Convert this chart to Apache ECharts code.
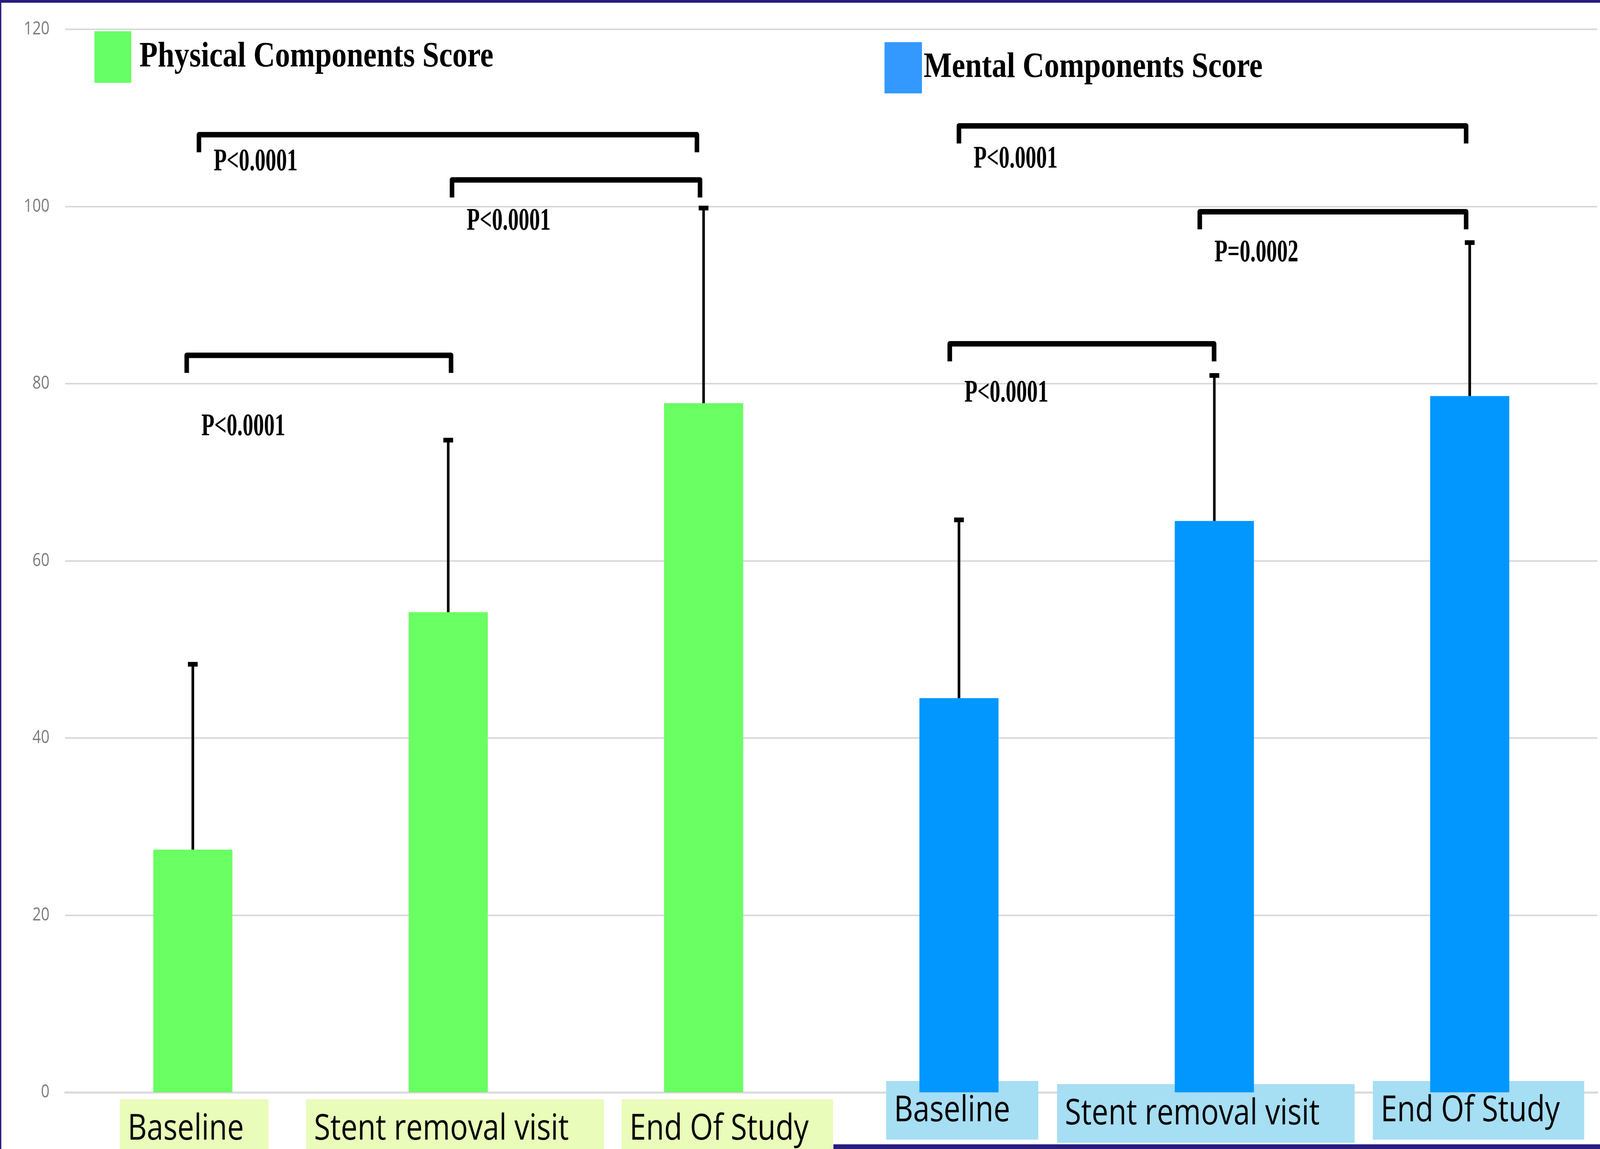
<!DOCTYPE html>
<html>
<head>
<meta charset="utf-8">
<script src="https://cdn.jsdelivr.net/npm/echarts@6/dist/echarts.min.js"></script>
<style>
html,body{margin:0;padding:0;background:#fff;overflow:hidden;width:100%;height:100%;}
#c{width:4913px;height:2941px;position:absolute;left:0;top:0;transform-origin:0 0;}
</style>
</head>
<body>
<div id="c"></div>
<script>
// ---- data ----
const timepoints = ['Baseline', 'Stent removal visit', 'End Of Study'];
const groupNames = ['Physical Components Score', 'Mental Components Score'];
const physicalMean = [27.4, 54.2, 77.8];
const physicalUpper = [48.5, 73.8, 100.0];
const mentalMean = [44.5, 64.5, 78.6];
const mentalUpper = [64.8, 81.1, 96.1];
const yMin = 0, yMax = 120, yStep = 20;
// brackets: ends as positions along the category axis (0..5), level and label level in score units
const bracketEnds = [[0.024, 1.974], [1.015, 1.986], [-0.024, 1.011], [3.0, 4.986], [3.943, 4.986], [2.964, 3.999]];
const bracketLevels = [108.1, 103.0, 83.2, 109.1, 99.4, 84.5];
const pLabels = ['P<0.0001', 'P<0.0001', 'P<0.0001', 'P<0.0001', 'P=0.0002', 'P<0.0001'];
const pLabelLevels = [105.0, 98.3, 75.1, 105.3, 94.7, 78.9];

// ---- fit the 4913 x 2941 drawing into whatever viewport we get ----
const el = document.getElementById('c');
const vw = document.documentElement.clientWidth || window.innerWidth || 4913;
const vh = document.documentElement.clientHeight || window.innerHeight || 2941;
el.style.transform = 'scale(' + (vw / 4913) + ',' + (vh / 2941) + ')';

// ---- build ----
const axisLabelTexts = timepoints.concat(timepoints);
const axisKeys = axisLabelTexts.map((_, i) => 'c' + i);
const physicalBars = physicalMean.concat(['-', '-', '-']);
const mentalBars = ['-', '-', '-'].concat(mentalMean);
const errData = physicalMean.map((m, i) => [i, m, physicalUpper[i]])
  .concat(mentalMean.map((m, i) => [i + 3, m, mentalUpper[i]]));
const bracketData = bracketEnds.map((e, i) => [Math.round(e[0]), bracketLevels[i]]);

// label box styling (pixels)
const LABEL_FONT = '"Open Sans", sans-serif';
const labelShift = [4, 21, 73, 10, -26, 27];
const labelBoxW = [456, 914, 649, 467, 914, 649];
const labelMargin = [49, 49, 49, -4, 4, -4];
const mctx = document.createElement('canvas').getContext('2d');
mctx.font = '91px ' + LABEL_FONT;
const rich = {};
axisLabelTexts.forEach((t, i) => {
  const green = i < 3;
  const pl = 24;
  const tw = mctx.measureText(t).width;
  const pr = Math.max(0, labelBoxW[i] - pl - tw);
  rich['t' + i] = {
    fontSize: 91, fontFamily: LABEL_FONT, color: '#000', lineHeight: 100,
    backgroundColor: green ? '#e9fcb9' : '#a6def3',
    padding: green ? [32, pr, 40, pl] : [32, pr, 27, pl]
  };
  rich['s' + i] = {width: Math.max(1, Math.abs(labelShift[i] * 2)), lineHeight: 100, fontSize: 10};
});
function labelFmt(v, idx) {
  const t = '{t' + idx + '|' + axisLabelTexts[idx] + '}';
  const s = '{s' + idx + '| }';
  return labelShift[idx] >= 0 ? s + t : t + s;
}

const xAxes = axisLabelTexts.map((t, i) => ({
  type: 'category', data: axisKeys, position: 'bottom', gridIndex: 0,
  axisLine: {show: i === 0, lineStyle: {color: '#d9d9d9', width: 5}},
  axisTick: {show: false},
  splitLine: {show: false},
  axisLabel: {
    interval: function (idx) { return idx === i; },
    formatter: labelFmt, rich: rich, margin: labelMargin[i], hideOverlap: false
  }
}));

const chart = echarts.init(el, null, {renderer: 'canvas', width: 4913, height: 2941});

function renderErr(params, api) {
  const p0 = api.coord([api.value(0), api.value(1)]);
  const p1 = api.coord([api.value(0), api.value(2)]);
  return {
    type: 'group',
    children: [
      {type: 'line', shape: {x1: p0[0], y1: p0[1], x2: p1[0], y2: p1[1]}, style: {stroke: '#000', lineWidth: 8}},
      {type: 'line', shape: {x1: p1[0] - 15, y1: p1[1] + 4, x2: p1[0] + 15, y2: p1[1] + 4},
        style: {stroke: '#000', lineWidth: 12}}
    ]
  };
}

function renderBracket(params, api) {
  const i = params.dataIndex;
  const c0 = api.coord([0, 0])[0];
  const cw = api.coord([1, 0])[0] - c0;
  const xa = c0 + bracketEnds[i][0] * cw;
  const xb = c0 + bracketEnds[i][1] * cw;
  const y = api.coord([0, bracketLevels[i]])[1];
  const ly = api.coord([0, pLabelLevels[i]])[1];
  const d = 45;
  return {
    type: 'group',
    children: [
      {type: 'polyline', shape: {points: [[xa, y + d], [xa, y], [xb, y], [xb, y + d]]},
        style: {stroke: '#000', lineWidth: 14, fill: null, lineJoin: 'round', lineCap: 'butt'}},
      {type: 'text', x: xa + 45, y: ly, scaleX: 0.82,
        style: {text: pLabels[i], fill: '#000', fontSize: 80, fontFamily: '"Liberation Serif", serif',
          fontWeight: 'bold', align: 'left', verticalAlign: 'middle'}}
    ]
  };
}

const option = {
  animation: false,
  backgroundColor: '#ffffff',
  grid: {left: 200, right: 8, top: 75, bottom: 145, containLabel: false, outerBoundsMode: 'none'},
  legend: [
    {
      data: [{name: groupNames[0], itemStyle: {color: '#66ff66'}}],
      left: 285, top: 75, itemWidth: 113, itemHeight: 132, icon: 'rect', selectedMode: false,
      textStyle: {fontSize: 92, fontFamily: '"Liberation Serif", serif', fontWeight: 'bold', color: '#000',
        padding: [0, 0, 24, 20]}
    },
    {
      data: [{name: groupNames[1], itemStyle: {color: '#3399ff'}}],
      left: 2711, top: 103, itemWidth: 115, itemHeight: 131, icon: 'rect', selectedMode: false,
      textStyle: {fontSize: 92, fontFamily: '"Liberation Serif", serif', fontWeight: 'bold', color: '#000',
        padding: [36, 0, 0, 0]}
    }
  ],
  xAxis: xAxes,
  yAxis: {
    type: 'value', min: yMin, max: yMax, interval: yStep,
    axisLine: {show: false}, axisTick: {show: false},
    axisLabel: {fontSize: 46, color: '#7a7a7a', margin: 48, fontFamily: '"Open Sans", sans-serif'},
    splitLine: {lineStyle: {color: '#d9d9d9', width: 4}}
  },
  series: [
    {type: 'bar', name: groupNames[0], data: physicalBars, barWidth: 243, barGap: '-100%',
      itemStyle: {color: '#6aff62'}, z: 2},
    {type: 'bar', name: groupNames[1], data: mentalBars, barWidth: 243, barGap: '-100%',
      itemStyle: {color: '#0197fe'}, z: 2},
    {type: 'custom', name: 'err', renderItem: renderErr, data: errData,
      encode: {x: 0, y: [1, 2]}, z: 3, silent: true},
    {type: 'custom', name: 'brackets', renderItem: renderBracket, data: bracketData,
      encode: {x: 0, y: 1}, z: 4, silent: true, clip: false}
  ],
  graphic: [
    {type: 'rect', left: 0, top: 0, shape: {width: 4913, height: 7}, style: {fill: '#281c7c'}, z: 100},
    {type: 'rect', left: 0, top: 0, shape: {width: 4, height: 2941}, style: {fill: '#281c7c'}, z: 100},
    {type: 'rect', left: 2559, top: 2929, shape: {width: 2354, height: 12}, style: {fill: '#281c7c'}, z: 100}
  ]
};
chart.setOption(option);
</script>
</body>
</html>
